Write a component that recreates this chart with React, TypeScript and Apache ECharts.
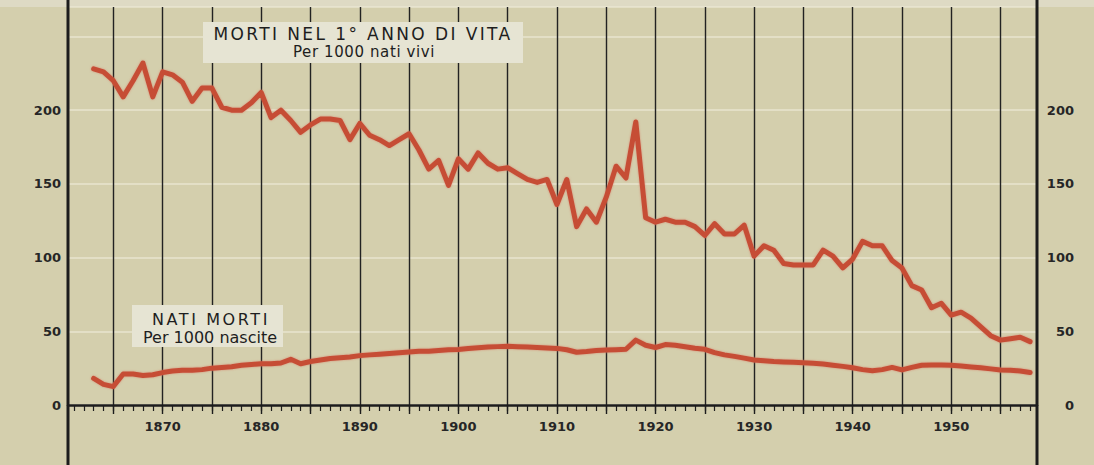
import React, { useEffect, useRef } from "react";
import * as echarts from "echarts";

// ---- data ----
const firstYear = 1863;
// Morti nel 1° anno di vita, per 1000 nati vivi (1863 → 1958)
const infantDeaths = [
  228, 226, 220, 209, 220, 232, 209, 226, 224, 219,
  206, 215, 215, 202, 200, 200, 205, 212, 195, 200,
  193, 185, 190, 194, 194, 193, 180, 191, 183, 180,
  176, 180, 184, 173, 160, 166, 149, 167, 160, 171,
  164, 160, 161, 157, 153, 151, 153, 136, 153, 121,
  133, 124, 141, 162, 154, 192, 127, 124, 126, 124,
  124, 121, 115, 123, 116, 116, 122, 101, 108, 105,
  96, 95, 95, 95, 105, 101, 93, 99, 111, 108,
  108, 98, 93, 81, 78, 66, 69, 61, 63, 59,
  53, 47, 44, 45, 46, 43,
];
// Nati morti, per 1000 nascite (1863 → 1958)
const stillBirths = [
  18, 14, 12.5, 21, 21, 20, 20.5, 22, 23, 23.5,
  23.5, 24, 25, 25.5, 26, 27, 27.5, 28, 28, 28.5,
  31, 28, 29.5, 30.5, 31.5, 32, 32.5, 33.5, 34, 34.5,
  35, 35.5, 36, 36.5, 36.5, 37, 37.5, 37.7, 38.3, 38.8,
  39.3, 39.6, 39.8, 39.6, 39.3, 39, 38.7, 38.4, 37.5, 35.8,
  36.3, 37, 37.3, 37.5, 37.8, 44, 40.5, 39, 41, 40.5,
  39.5, 38.5, 37.8, 35.5, 34, 33, 31.8, 30.5, 30, 29.5,
  29.2, 29, 28.7, 28.3, 27.8, 27, 26.2, 25.3, 24, 23.3,
  24, 25.5, 23.8, 25.5, 27, 27.2, 27.2, 27, 26.5, 25.8,
  25.2, 24.5, 23.8, 23.6, 23, 22,
];
const xTickLabels = [1870, 1880, 1890, 1900, 1910, 1920, 1930, 1940, 1950];
const xGridYears = [1865, 1870, 1875, 1880, 1885, 1890, 1895, 1900, 1905, 1910,
  1915, 1920, 1925, 1930, 1935, 1940, 1945, 1950, 1955];
const yTickLabels = [0, 50, 100, 150, 200];
const firstTickYear = 1861;
const lastTickYear = 1958;
const titleInfant = "MORTI NEL 1° ANNO DI VITA";
const subInfant = "Per 1000 nati vivi";
const titleStill = "NATI MORTI";
const subStill = "Per 1000 nascite";

const xMin = 1860.4;
const xMax = 1958.7;

export default function App() {
  const ref = useRef<HTMLDivElement>(null);
  useEffect(() => {
    if (!ref.current) return;
    const chart = echarts.init(ref.current, undefined, { renderer: "svg" });
    const yearTicks: number[] = [];
    for (let y = firstTickYear; y <= lastTickYear; y++) yearTicks.push(y);
    const infantData = infantDeaths.map((v, i) => [firstYear + i, v]);
    const stillData = stillBirths.map((v, i) => [firstYear + i, v]);
    const bg = "#d4cfad";
    const ink = "#1c1c1c";
    const red = "#c64d36";
    const labelFont = "DejaVu Sans";
    const plain = (v: number) => String(v);
    const lineSeries = (name: string, data: number[][]) => ({
      name,
      type: "line",
      xAxisIndex: 0,
      yAxisIndex: 0,
      data,
      showSymbol: false,
      symbol: "none",
      z: 5,
      lineStyle: {
        color: red,
        width: 5,
        join: "round",
        cap: "round",
        shadowColor: "rgba(215,120,100,0.7)",
        shadowBlur: 2,
      },
      emphasis: { disabled: true },
    });
    chart.setOption({
      animation: false,
      backgroundColor: bg,
      grid: { left: 68, right: 57, top: 7, bottom: 60 },
      xAxis: [
        {
          type: "value",
          min: xMin,
          max: xMax,
          position: "bottom",
          axisLine: { show: true, onZero: false, lineStyle: { color: ink, width: 2.5 } },
          axisTick: { show: true, customValues: yearTicks, length: 6, lineStyle: { color: ink, width: 1.2 } },
          axisLabel: {
            customValues: xTickLabels,
            formatter: plain,
            fontSize: 13,
            fontWeight: "bold",
            fontFamily: labelFont,
            color: "#262626",
            margin: 15,
          },
          splitLine: { show: false },
        },
        {
          type: "value",
          min: xMin,
          max: xMax,
          position: "top",
          offset: -398,
          axisLine: { show: false },
          axisTick: { show: true, inside: true, customValues: xGridYears, length: 9, lineStyle: { color: ink, width: 1.4 } },
          axisLabel: { show: false },
          splitLine: { show: true, lineStyle: { color: "#222", width: 1.4 } },
        },
      ],
      yAxis: [
        {
          type: "value",
          min: 0,
          max: 270,
          interval: 50,
          position: "left",
          axisLine: { show: false },
          axisTick: { show: false },
          axisLabel: {
            customValues: yTickLabels,
            formatter: plain,
            fontSize: 13,
            fontWeight: "bold",
            fontFamily: labelFont,
            color: "#262626",
            margin: 7,
            padding: [5, 0, 0, 0],
          },
          splitLine: { show: true, lineStyle: { color: "rgba(236,233,215,0.6)", width: 2 } },
        },
        {
          type: "value",
          min: 0,
          max: 270,
          interval: 50,
          position: "right",
          axisLine: { show: false },
          axisTick: { show: false },
          axisLabel: {
            customValues: yTickLabels,
            formatter: plain,
            fontSize: 13,
            fontWeight: "bold",
            fontFamily: labelFont,
            color: "#262626",
            align: "right",
            margin: 37,
            padding: [5, 0, 0, 0],
          },
          splitLine: { show: false },
        },
      ],
      series: [lineSeries("infant", infantData), lineSeries("still", stillData)],
      graphic: [
        { type: "rect", z: -1, shape: { x: 0, y: 0, width: 1094, height: 7 }, style: { fill: "#dedac4" } },
        { type: "line", z: 100, shape: { x1: 68, y1: 0, x2: 68, y2: 465 }, style: { stroke: ink, lineWidth: 3 } },
        { type: "line", z: 100, shape: { x1: 1037, y1: 0, x2: 1037, y2: 465 }, style: { stroke: ink, lineWidth: 3 } },
        { type: "rect", z: 100, shape: { x: 203, y: 22, width: 320, height: 41 }, style: { fill: "#e6e4d3" } },
        {
          type: "text", z: 101, x: 363, y: 34,
          style: { text: titleInfant, fontSize: 17, fontFamily: labelFont, fill: "#1e1e1e", align: "center", verticalAlign: "middle" },
        },
        {
          type: "text", z: 101, x: 364, y: 52,
          style: { text: subInfant, fontSize: 15, fontFamily: labelFont, fill: "#1e1e1e", align: "center", verticalAlign: "middle" },
        },
        { type: "rect", z: 100, shape: { x: 132, y: 305, width: 151, height: 42 }, style: { fill: "#e6e4d3" } },
        {
          type: "text", z: 101, x: 211, y: 319,
          style: { text: titleStill, fontSize: 16, fontFamily: labelFont, fill: "#1e1e1e", align: "center", verticalAlign: "middle" },
        },
        {
          type: "text", z: 101, x: 210, y: 337,
          style: { text: subStill, fontSize: 16, fontFamily: labelFont, fill: "#1e1e1e", align: "center", verticalAlign: "middle" },
        },
      ],
    });
    // widen letter spacing of the two headings like the printed original
    const svg = ref.current.querySelector("svg");
    if (svg) {
      svg.querySelectorAll("text").forEach((t) => {
        const s = t.textContent || "";
        if (s === titleInfant) t.setAttribute("letter-spacing", "2.4");
        if (s === titleStill) t.setAttribute("letter-spacing", "2.6");
        if (s === subInfant) t.setAttribute("letter-spacing", "0.6");
      });
    }
    return () => chart.dispose();
  }, []);
  return (
    <div
      ref={ref}
      style={{ position: "fixed", left: 0, top: 0, width: 1094, height: 465 }}
    />
  );
}
